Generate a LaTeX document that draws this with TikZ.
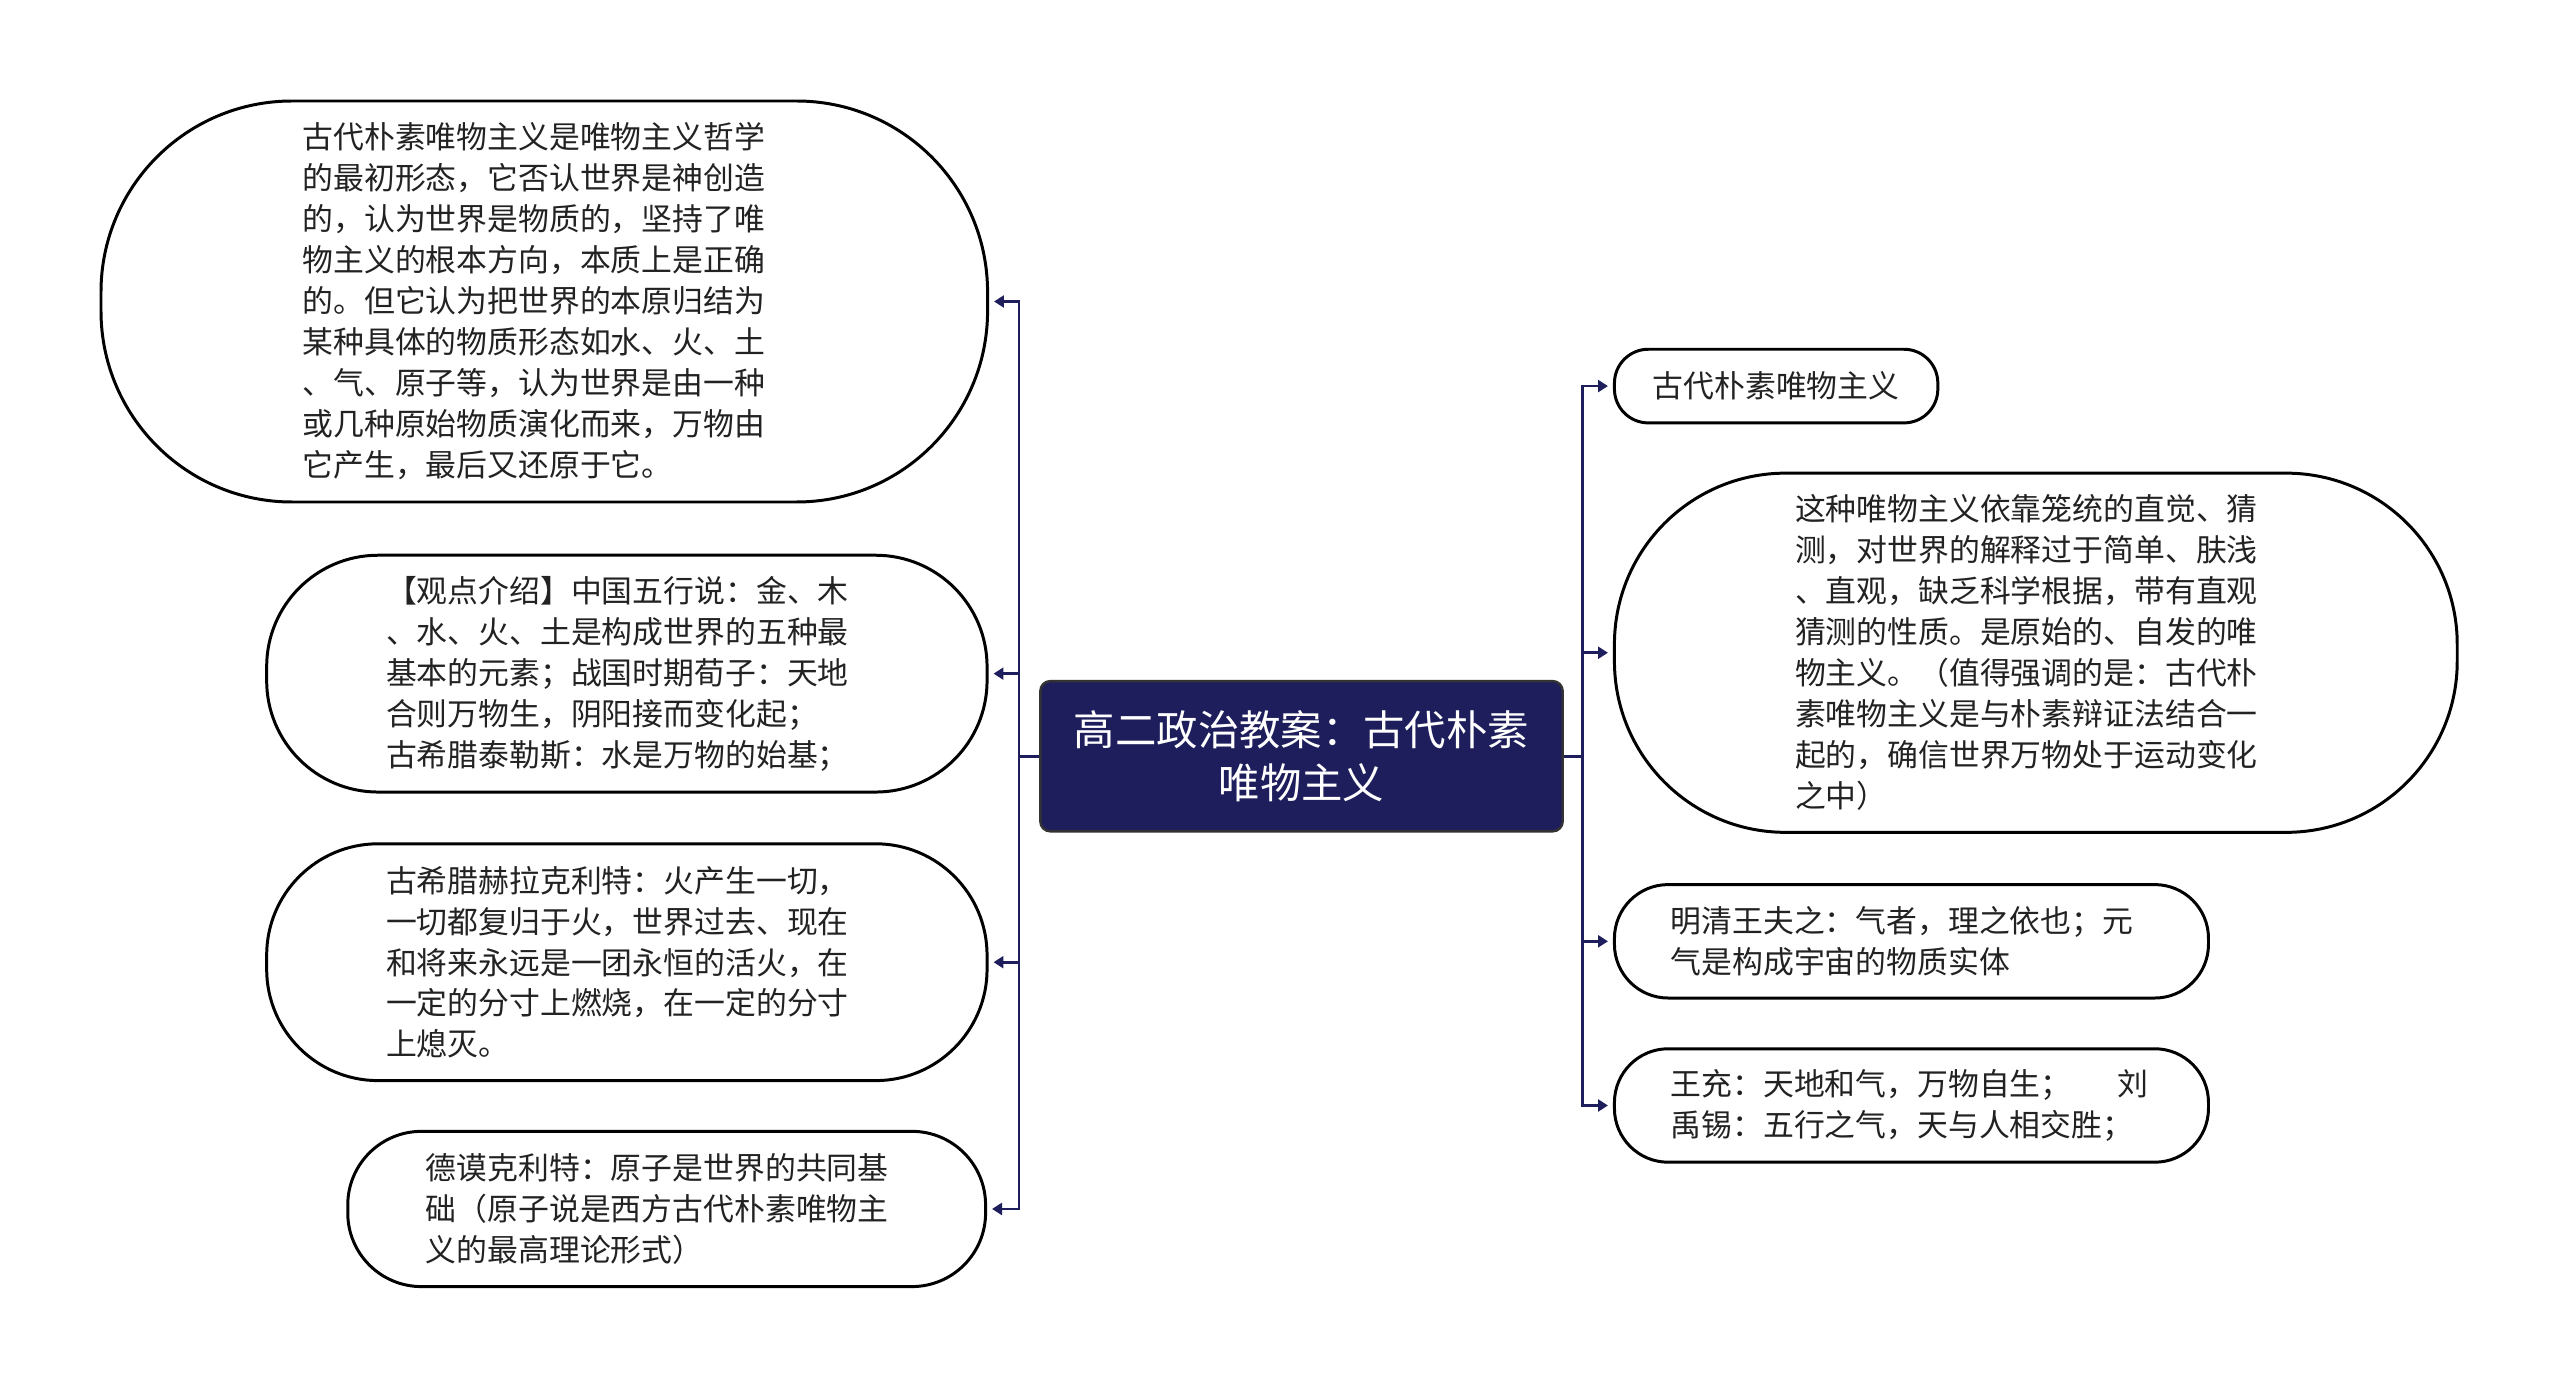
\documentclass[tikz,border=0pt]{standalone}
\usepackage{fontspec}
\setmainfont{Noto Sans CJK SC}
\usetikzlibrary{arrows.meta}
\definecolor{navy}{HTML}{1E1E5C}
\definecolor{txt}{HTML}{222222}
\tikzset{
  leaf/.style={draw=black, line width=1.5pt, fill=white, rectangle, inner sep=0pt,
    text=txt, align=left, font=\fontsize{15.5pt}{20.6pt}\selectfont},
  root/.style={draw=black!80, line width=1.2pt, fill=navy, rectangle, rounded corners=5pt,
    inner sep=0pt, text=white, align=center, font=\fontsize{20.8pt}{27pt}\selectfont},
  conn/.style={draw=navy, line width=1.4pt},
  arr/.style={conn, shorten >=2.5pt, -{Triangle[length=5pt,width=6pt]}}
}
\begin{document}
\begin{tikzpicture}[x=1pt,y=-1pt]
\useasboundingbox (0,0) rectangle (1286.4,698.4);
% central
\node[root, minimum width=262.5pt, minimum height=75.5pt] (c) at (654,380)
  {高二政治教案：古代朴素\\唯物主义};
% left
\node[leaf, minimum width=445.5pt, minimum height=201.5pt, rounded corners=96pt, text width=243pt] (l1) at (273.5,151.5)
  {古代朴素唯物主义是唯物主义哲学\\的最初形态，它否认世界是神创造\\的，认为世界是物质的，坚持了唯\\物主义的根本方向，本质上是正确\\的。但它认为把世界的本原归结为\\某种具体的物质形态如水、火、土\\、气、原子等，认为世界是由一种\\或几种原始物质演化而来，万物由\\它产生，最后又还原于它。};
\node[leaf, minimum width=362pt, minimum height=119pt, rounded corners=56pt, text width=242pt] (l2) at (315,338.5)
  {【观点介绍】中国五行说：金、木\\、水、火、土是构成世界的五种最\\基本的元素；战国时期荀子：天地\\合则万物生，阴阳接而变化起；\\古希腊泰勒斯：水是万物的始基；};
\node[leaf, minimum width=362pt, minimum height=119pt, rounded corners=56pt, text width=242pt] (l3) at (315,483.5)
  {古希腊赫拉克利特：火产生一切，\\一切都复归于火，世界过去、现在\\和将来永远是一团永恒的活火，在\\一定的分寸上燃烧，在一定的分寸\\上熄灭。};
\node[leaf, minimum width=320.5pt, minimum height=78pt, rounded corners=37pt, text width=242pt] (l4) at (335,607.5)
  {德谟克利特：原子是世界的共同基\\础（原子说是西方古代朴素唯物主\\义的最高理论形式）};
% right
\node[leaf, minimum width=162.5pt, minimum height=37pt, rounded corners=17pt] (r1) at (892.5,194)
  {古代朴素唯物主义};
\node[leaf, minimum width=423.5pt, minimum height=180.5pt, rounded corners=86pt, text width=242pt] (r2) at (1023,328)
  {这种唯物主义依靠笼统的直觉、猜\\测，对世界的解释过于简单、肤浅\\、直观，缺乏科学根据，带有直观\\猜测的性质。是原始的、自发的唯\\物主义。（值得强调的是：古代朴\\素唯物主义是与朴素辩证法结合一\\起的，确信世界万物处于运动变化\\之中）};
\node[leaf, minimum width=298.5pt, minimum height=57pt, rounded corners=27pt, text width=242pt] (r3) at (960.5,473)
  {明清王夫之：气者，理之依也；元\\气是构成宇宙的物质实体};
\node[leaf, minimum width=298.5pt, minimum height=57pt, rounded corners=27pt, text width=242pt] (r4) at (960.5,555.5)
  {\mbox{王充：天地和气，万物自生；\hspace{1.5em}刘}\\禹锡：五行之气，天与人相交胜；};
% connectors
\coordinate (lt) at (512,380);
\coordinate (rt) at (795,380);
\draw[conn] (c.west) -- (lt);
\draw[conn] (c.east) -- (rt);
\foreach \n in {l1,l2,l3,l4} \draw[arr] (lt) |- (\n);
\foreach \n in {r1,r2,r3,r4} \draw[arr] (rt) |- (\n);
\end{tikzpicture}
\end{document}
